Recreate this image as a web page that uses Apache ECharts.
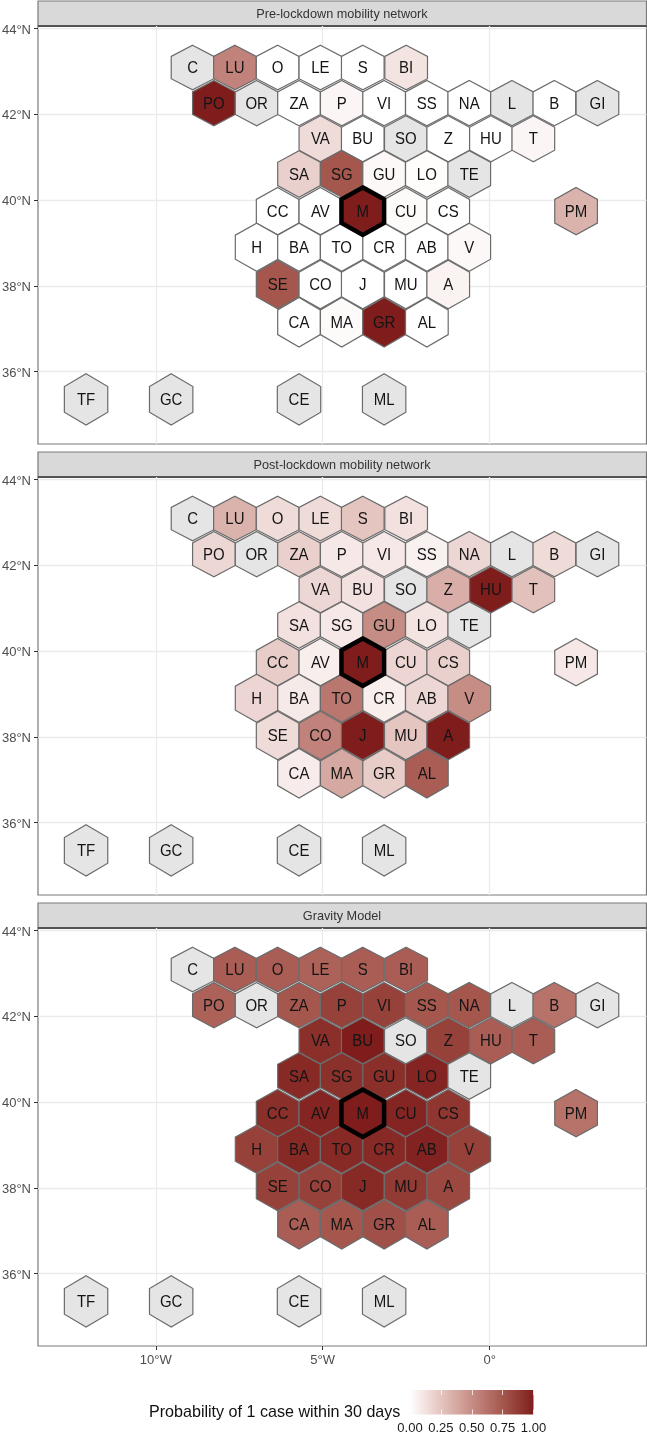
<!DOCTYPE html>
<html><head><meta charset="utf-8">
<style>html,body{margin:0;padding:0;background:#fff}#c{width:647px;height:1434px}</style>
<script src="https://cdn.jsdelivr.net/npm/echarts@6/dist/echarts.min.js"></script>
</head><body><div id="c"></div>
<script>
const provinces = ['C','LU','O','LE','S','BI','PO','OR','ZA','P','VI','SS','NA','L','B','GI','VA','BU','SO','Z','HU','T','SA','SG','GU','LO','TE','CC','AV','CU','CS','PM','H','BA','TO','CR','AB','V','SE','CO','J','MU','A','CA','MA','GR','AL','TF','GC','CE','ML','M'];
const lons = [-8.90,-7.63,-6.35,-5.07,-3.80,-2.50,-8.26,-6.98,-5.71,-4.43,-3.16,-1.88,-0.61,0.67,1.94,3.23,-5.07,-3.80,-2.51,-1.24,0.04,1.31,-5.71,-4.43,-3.16,-1.88,-0.61,-6.35,-5.07,-2.51,-1.24,2.59,-6.98,-5.71,-4.43,-3.16,-1.88,-0.61,-6.35,-5.07,-3.80,-2.51,-1.24,-5.71,-4.43,-3.16,-1.88,-12.09,-9.54,-5.71,-3.16,-3.80];
const lats = [43.09,43.09,43.09,43.09,43.09,43.09,42.26,42.26,42.26,42.26,42.26,42.26,42.26,42.26,42.26,42.26,41.43,41.43,41.43,41.43,41.43,41.43,40.61,40.61,40.61,40.61,40.61,39.74,39.74,39.74,39.74,39.74,38.90,38.90,38.90,38.90,38.90,38.90,38.03,38.03,38.03,38.03,38.03,37.15,37.15,37.15,37.15,35.35,35.35,35.35,35.35,39.74];
const preLockdown = [null,.55,0,0,0,.12,1,null,0,.04,0,0,0,null,0,null,.15,0,null,0,0,.04,.2,.75,.03,.01,null,0,0,.02,0,.33,0,0,0,0,0,.03,.75,0,0,0,.05,0,.02,1,0,null,null,null,null,1];
const postLockdown = [null,.33,.15,.15,.25,.13,.17,null,.2,.1,.1,.06,.17,null,.15,null,.17,.13,null,.35,1,.27,.13,.1,.5,.12,null,.22,.07,.18,.2,.1,.18,.09,.6,.07,.17,.5,.15,.55,1,.25,1,.08,.38,.22,.72,null,null,null,null,1];
const gravity = [null,.72,.72,.7,.72,.72,.7,null,.75,.85,.85,.75,.75,null,.62,null,.93,1,null,.85,.72,.72,.95,.92,.93,.97,null,.93,.97,.97,.9,.62,.85,.95,.95,.95,.98,.85,.85,.85,.95,.88,.82,.72,.75,.78,.72,null,null,null,null,1];
const panelTitles = ['Pre-lockdown mobility network','Post-lockdown mobility network','Gravity Model'];
const panelValues = [preLockdown, postLockdown, gravity];
const lonTicks = [-10,-5,0];
const latTicks = [36,38,40,42,44];
const legendTicks = [0,.25,.5,.75,1];

const FONT='"Liberation Sans", Arial, sans-serif';
const HIGH=[127,29,29], NA='#E5E5E5';
const panelTops=[26,477,928], PANEL_H=418;
const fmtLon=v=>v<0?(-v)+'°W':v>0?v+'°E':'0°';
// Lab interpolation between white and the dark end, as the original colour scale does
function toLab(c){
  const l=c.map(v=>{v/=255;return v>.04045?Math.pow((v+.055)/1.055,2.4):v/12.92;});
  const x=(.4124*l[0]+.3576*l[1]+.1805*l[2])/.95047,y=.2126*l[0]+.7152*l[1]+.0722*l[2],z=(.0193*l[0]+.1192*l[1]+.9505*l[2])/1.08883;
  const f=t=>t>.008856?Math.cbrt(t):7.787*t+16/116;
  return [116*f(y)-16,500*(f(x)-f(y)),200*(f(y)-f(z))];
}
function fromLab(L){
  const fy=(L[0]+16)/116,fx=L[1]/500+fy,fz=fy-L[2]/200;
  const g=t=>t*t*t>.008856?t*t*t:(t-16/116)/7.787;
  const x=g(fx)*.95047,y=g(fy),z=g(fz)*1.08883;
  const r=[3.2406*x-1.5372*y-.4986*z,-.9689*x+1.8758*y+.0415*z,.0557*x-.204*y+1.057*z];
  return r.map(v=>{v=Math.max(0,Math.min(1,v));v=v>.0031308?1.055*Math.pow(v,1/2.4)-.055:12.92*v;return Math.round(v*255);});
}
const LABLOW=toLab([255,255,255]),LABHIGH=toLab(HIGH);
function colorOf(v){
  if(v==null||isNaN(v))return NA;
  return 'rgb('+fromLab(LABLOW.map((l,i)=>l+(LABHIGH[i]-l)*v)).join(',')+')';
}
function hexRadius(lat){
  if(lat<36)return .60;
  return .52+(43.09-lat)*.0095;
}
function hexRender(values){
  return function(params,api){
    const i=params.dataIndex, lon=api.value(0), lat=api.value(1);
    const r=hexRadius(lat), w=lat<36?.65:.639;
    const pts=[[0,r],[w,r/2],[w,-r/2],[0,-r],[-w,-r/2],[-w,r/2]].map(d=>api.coord([lon+d[0],lat+d[1]]));
    const isM=provinces[i]==='M';
    const ctr=api.coord([lon,lat]);
    return {type:'group',z2:isM?10:1,children:[
      {type:'polygon',shape:{points:pts},z2:isM?10:1,
       style:{fill:colorOf(values[i]),stroke:isM?'#000':'#6b6b6b',lineWidth:isM?4.5:1.2,lineJoin:'miter'}},
      {type:'text',z2:20,x:ctr[0],y:ctr[1]+1,scaleY:1.12,style:{x:0,y:0,text:provinces[i],fill:'#141414',font:'15px '+FONT,align:'center',verticalAlign:'middle'}}
    ]};
  };
}
const grids=[],xAxes=[],yAxes=[],series=[],graphics=[];
panelTops.forEach((top,k)=>{
  grids.push({left:38,width:608.5,top:top,height:PANEL_H,show:true,borderColor:'#7a7a7a',borderWidth:1.2,backgroundColor:'#fff',outerBoundsMode:'none'});
  const last=k===2;
  xAxes.push({gridIndex:k,type:'value',min:-13.53,max:4.70,
    axisLine:{show:false,onZero:false},
    axisTick:{show:last,length:4,lineStyle:{color:'#333'},customValues:lonTicks},
    axisLabel:{show:last,color:'#4d4d4d',fontSize:13,fontFamily:FONT,margin:8,customValues:lonTicks,formatter:fmtLon},
    splitLine:{show:true,lineStyle:{color:'#ebebeb',width:1.3}}});
  yAxes.push({gridIndex:k,type:'value',min:34.31,max:44.06,
    axisLine:{show:false,onZero:false},
    axisTick:{show:true,length:4,lineStyle:{color:'#333'},customValues:latTicks},
    axisLabel:{color:'#4d4d4d',fontSize:13,fontFamily:FONT,margin:7,verticalAlign:'top',lineHeight:3,customValues:latTicks,formatter:v=>v+'°N'},
    splitLine:{show:true,lineStyle:{color:'#ebebeb',width:1.3}}});
  series.push({type:'custom',coordinateSystem:'cartesian2d',xAxisIndex:k,yAxisIndex:k,clip:false,silent:true,
    data:lons.map((x,i)=>[x,lats[i]]),encode:{x:0,y:1},renderItem:hexRender(panelValues[k])});
  graphics.push({type:'rect',shape:{x:38,y:top-25,width:608.5,height:25},style:{fill:'#d9d9d9',stroke:'#7a7a7a',lineWidth:1.2}});
  graphics.push({type:'line',shape:{x1:38,y1:top,x2:646.5,y2:top},style:{stroke:'#3a3a3a',lineWidth:1.4}});
  graphics.push({type:'text',x:342,y:top-12,style:{text:panelTitles[k],fill:'#333',font:'12.7px '+FONT,align:'center',verticalAlign:'middle'}});
});
// colour bar
grids.push({left:410,width:123.5,top:1390,height:24.5,show:false,outerBoundsMode:'none'});
xAxes.push({gridIndex:3,type:'value',min:0,max:1,interval:.25,z:6,
  axisLine:{show:false,onZero:false},splitLine:{show:false},
  axisTick:{show:true,inside:true,length:5,lineStyle:{color:'rgba(255,255,255,.75)',width:1}},
  axisLabel:{color:'#1a1a1a',fontSize:13,fontFamily:FONT,margin:7,formatter:v=>v.toFixed(2),hideOverlap:false}});
xAxes.push({gridIndex:3,type:'value',min:0,max:1,interval:.25,position:'top',z:6,
  axisLine:{show:false,onZero:false},splitLine:{show:false},
  axisTick:{show:true,inside:true,length:5,lineStyle:{color:'rgba(255,255,255,.75)',width:1}},axisLabel:{show:false}});
yAxes.push({gridIndex:3,type:'value',min:0,max:1,show:false});
series.push({type:'custom',coordinateSystem:'cartesian2d',xAxisIndex:3,yAxisIndex:3,silent:true,clip:false,
  data:[[0,1]],encode:{x:[0,1]},
  renderItem:function(p,api){
    const a=api.coord([0,0]),b=api.coord([1,1]);
    const stops=[];for(let j=0;j<=20;j++)stops.push({offset:j/20,color:colorOf(j/20)});
    return {type:'rect',shape:{x:a[0],y:b[1],width:b[0]-a[0],height:a[1]-b[1]},
      style:{fill:new echarts.graphic.LinearGradient(0,0,1,0,stops)}};
  }});
graphics.push({type:'text',x:149,y:1412.5,style:{text:'Probability of 1 case within 30 days',fill:'#111',font:'16.1px '+FONT,align:'left',verticalAlign:'middle'}});
const chart=echarts.init(document.getElementById('c'),null,{renderer:'canvas'});
chart.setOption({animation:false,backgroundColor:'#fff',grid:grids,xAxis:xAxes,yAxis:yAxes,series:series,graphic:{elements:graphics}});
</script></body></html>
